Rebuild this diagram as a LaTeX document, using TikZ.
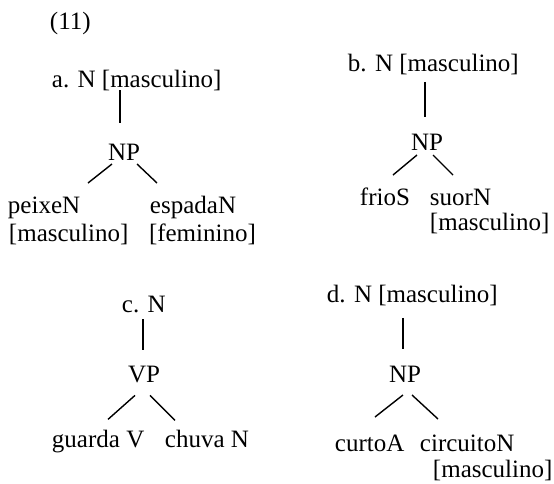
\documentclass[tikz,border=0pt]{standalone}
\usepackage{fontspec}
\setmainfont{Liberation Serif}
\begin{document}
\begin{tikzpicture}[x=0.5pt,y=-0.5pt,
  every node/.style={inner sep=0pt,outer sep=0pt,font=\fontsize{12.5}{15}\selectfont},
  lbl/.style={anchor=base west},
  cat/.style={anchor=base},
  stem/.style={line width=0.7pt},
  branch/.style={line width=0.7pt}]

\useasboundingbox (0,0) rectangle (554,484) ;

%example number
\node [lbl] (num) at (50,29) {(11)} ;

%tree a
\node [lbl] (ta) at (52,87) {a. N [masculino]} ;
\node [cat] (npa) at (124,160) {NP} ;
\node [lbl] (peixe) at (8,213) {peixeN} ;
\node [lbl] (peixeg) at (9,241) {[masculino]} ;
\node [lbl] (espada) at (150,213) {espadaN} ;
\node [lbl] (espadag) at (149,241) {[feminino]} ;

%tree a lines
\draw [stem,shorten >=10.5pt] ([xshift=-2pt]npa.north |- ta.south) -- ([xshift=-2pt]npa.north) ;
\draw [branch] ([shift={(-12,4)}]npa.south) -- ++(-24,19) ;
\draw [branch] ([shift={(13,4)}]npa.south) -- ++(20,19) ;

%tree b
\node [lbl] (tb) at (348,71) {b. N [masculino]} ;
\node [cat] (npb) at (427,150) {NP} ;
\node [lbl] (frio) at (360,205) {frioS} ;
\node [lbl] (suor) at (430,205) {suorN} ;
\node [lbl] (suorg) at (430,230) {[masculino]} ;

%tree b lines
\draw [stem,shorten <=3.75pt,shorten >=8.25pt] ([xshift=-1pt]npb.north |- tb.south) -- ([xshift=-1pt]npb.north) ;
\draw [branch] ([shift={(-10,5)}]npb.south) -- ++(-24,20) ;
\draw [branch] ([shift={(6,5)}]npb.south) -- ++(20,20) ;

%tree c
\node [lbl] (tc) at (122,312) {c. N} ;
\node [cat] (vpc) at (144,382) {VP} ;
\node [lbl] (guarda) at (52,447) {guarda V} ;
\node [lbl] (chuva) at (165,447) {chuva N} ;

%tree c lines
\draw [stem,shorten <=3.5pt,shorten >=7.75pt] ([xshift=-0.5pt]vpc.north |- tc.south) -- ([xshift=-0.5pt]vpc.north) ;
\draw [branch] ([shift={(-9,13)}]vpc.south) -- ++(-27,24) ;
\draw [branch] ([shift={(6,13)}]vpc.south) -- ++(25,25) ;

%tree d
\node [lbl] (td) at (327,302) {d. N [masculino]} ;
\node [cat] (npd) at (405,382) {NP} ;
\node [lbl] (curto) at (335,451) {curtoA} ;
\node [lbl] (circuito) at (420,451) {circuitoN} ;
\node [lbl] (circuitog) at (433,477) {[masculino]} ;

%tree d lines
\draw [stem,shorten <=6.25pt,shorten >=8.25pt] ([xshift=-1pt]npd.north |- td.south) -- ([xshift=-1pt]npd.north) ;
\draw [branch] ([shift={(-2,13)}]npd.south) -- ++(-28,22) ;
\draw [branch] ([shift={(7,13)}]npd.south) -- ++(26,24) ;

\end{tikzpicture}
\end{document}
